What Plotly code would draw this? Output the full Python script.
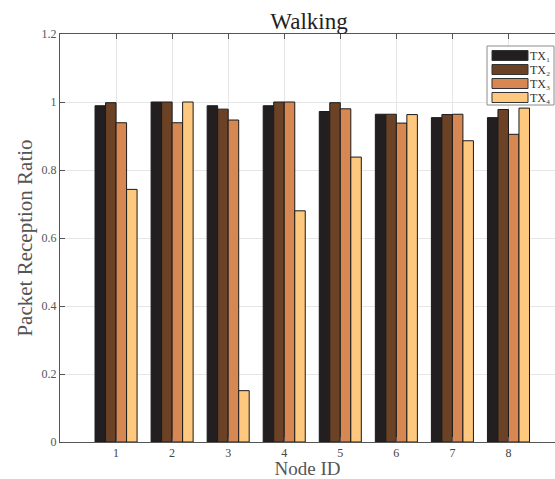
import plotly.graph_objects as go

# Packet reception ratio per node, one series per transmitter
nodes = [1, 2, 3, 4, 5, 6, 7, 8]
tx1 = [0.989, 1.000, 0.989, 0.989, 0.972, 0.964, 0.954, 0.954]
tx2 = [0.998, 1.000, 0.979, 1.000, 0.998, 0.964, 0.963, 0.978]
tx3 = [0.939, 0.939, 0.947, 1.000, 0.980, 0.938, 0.964, 0.905]
tx4 = [0.743, 1.000, 0.151, 0.680, 0.838, 0.963, 0.886, 0.982]
series_names = ["TX₁", "TX₂", "TX₃", "TX₄"]
colors = ["#231f20", "#6b4226", "#d68752", "#fec87e"]
y_ticks = [0, 0.2, 0.4, 0.6, 0.8, 1.0, 1.2]
y_tick_text = ["0", "0.2", "0.4", "0.6", "0.8", "1", "1.2"]

serif = "Liberation Serif, DejaVu Serif, serif"
W, H = 555, 479
ML, MR, MT, MB = 60, 0, 34, 37
plot_w, plot_h = W - ML - MR, H - MT - MB


def px_x(p):
    """pixel column -> paper x (plot-area relative)"""
    return (p - ML) / plot_w


def px_y(p):
    """pixel row -> paper y (plot-area relative)"""
    return (H - MB - p) / plot_h


fig = go.Figure()
for name, vals, col in zip(series_names, [tx1, tx2, tx3, tx4], colors):
    fig.add_trace(go.Bar(
        x=nodes, y=vals, name=name, showlegend=False,
        marker=dict(color=col, line=dict(color="#1a1a1a", width=1)),
    ))

# Boxed legend with wide colour swatches, top-right inside the axes
shapes = [dict(type="rect", xref="paper", yref="paper",
               x0=px_x(487), x1=px_x(554), y0=px_y(105), y1=px_y(46),
               line=dict(color="#8c8c8c", width=1), fillcolor="white", layer="above")]
annotations = []
row_top = 50.5
row_step = 14.0
for i, (name, col) in enumerate(zip(series_names, colors)):
    t = row_top + i * row_step
    shapes.append(dict(type="rect", xref="paper", yref="paper",
                       x0=px_x(492), x1=px_x(528), y0=px_y(t + 10), y1=px_y(t),
                       line=dict(color="#333333", width=1), fillcolor=col, layer="above"))
    annotations.append(dict(xref="paper", yref="paper", x=px_x(528), y=px_y(t + 5),
                            text=name, showarrow=False, xanchor="left", yanchor="middle",
                            font=dict(family=serif, size=12, color="#333333")))

fig.update_layout(
    width=W, height=H,
    margin=dict(l=ML, r=MR, t=MT, b=MB, autoexpand=False),
    paper_bgcolor="white", plot_bgcolor="white",
    barmode="group", bargap=0.25, bargroupgap=0,
    font=dict(family=serif, color="#444444"),
    title=dict(text="Walking", x=309 / W, xref="container", xanchor="center",
               y=1 - 21 / H, yanchor="middle",
               font=dict(family=serif, size=23, color="#222222")),
    shapes=shapes,
    annotations=annotations,
    showlegend=False,
)

fig.update_xaxes(
    range=[0, 8.83], tickmode="array", tickvals=nodes,
    ticktext=[str(n) for n in nodes], automargin=True,
    showgrid=True, gridcolor="#e6e6e6", gridwidth=1,
    showline=True, linecolor="#555555", linewidth=1, mirror="ticks",
    ticks="inside", ticklen=5, tickcolor="#555555",
    tickfont=dict(family=serif, size=12, color="#444444"),
    title=dict(text="Node ID", font=dict(family=serif, size=19, color="#555555"), standoff=9),
    zeroline=False,
)
fig.update_yaxes(
    range=[0, 1.2], tickmode="array", tickvals=y_ticks, ticktext=y_tick_text,
    automargin=True,
    showgrid=True, gridcolor="#e6e6e6", gridwidth=1,
    showline=True, linecolor="#555555", linewidth=1,
    ticks="inside", ticklen=5, tickcolor="#555555",
    tickfont=dict(family=serif, size=12, color="#555555"),
    title=dict(text="Packet Reception Ratio", font=dict(family=serif, size=21, color="#555555"), standoff=3),
    zeroline=False,
)

fig.write_html("out.html")
